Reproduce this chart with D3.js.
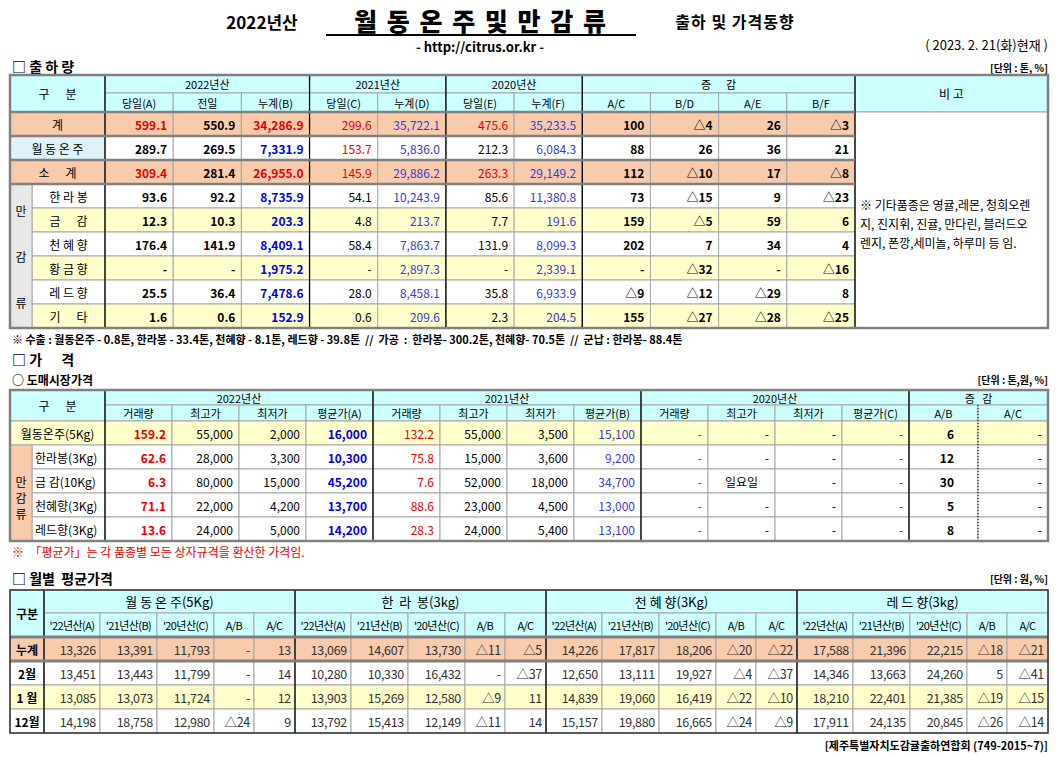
<!DOCTYPE html>
<html><head><meta charset="utf-8">
<script src="https://cdn.jsdelivr.net/npm/d3@7"></script>
<style>body{margin:0;background:#fff}svg{font-family:"Noto Sans CJK KR","Noto Sans",sans-serif}text{white-space:pre}</style>
</head><body><svg id="c" width="1062" height="757"></svg>
<script>
// ---------- data ----------
const shipRows = ["계","월동온주","소계","한라봉","금감","천혜향","황금향","레드향","기타"];
const shipLabels = ["계","월 동 온 주","소      계","한 라 봉","금      감","천 혜 향","황 금 향","레 드 향","기      타"];
const shipCols = ["당일(A)","전일","누계(B)","당일(C)","누계(D)","당일(E)","누계(F)","A/C","B/D","A/E","B/F"];
const shipYears = ["2022년산","2021년산","2020년산","증      감"];
const shipVals = [
 ["599.1","550.9","34,286.9","299.6","35,722.1","475.6","35,233.5","100","△4","26","△3"],
 ["289.7","269.5","7,331.9","153.7","5,836.0","212.3","6,084.3","88","26","36","21"],
 ["309.4","281.4","26,955.0","145.9","29,886.2","263.3","29,149.2","112","△10","17","△8"],
 ["93.6","92.2","8,735.9","54.1","10,243.9","85.6","11,380.8","73","△15","9","△23"],
 ["12.3","10.3","203.3","4.8","213.7","7.7","191.6","159","△5","59","6"],
 ["176.4","141.9","8,409.1","58.4","7,863.7","131.9","8,099.3","202","7","34","4"],
 ["-","-","1,975.2","-","2,897.3","-","2,339.1","-","△32","-","△16"],
 ["25.5","36.4","7,478.6","28.0","8,458.1","35.8","6,933.9","△9","△12","△29","8"],
 ["1.6","0.6","152.9","0.6","209.6","2.3","204.5","155","△27","△28","△25"]
];
const shipNote = ["※ 기타품종은 영귤,레몬, 청희오렌","지, 진지휘, 진귤, 만다린, 블러드오","렌지, 폰깡,세미놀, 하루미 등 임."];
const priceRows = ["월동온주(5Kg)","한라봉(3Kg)","금 감(10Kg)","천혜향(3Kg)","레드향(3Kg)"];
const priceCols = ["거래량","최고가","최저가","평균가(A)","거래량","최고가","최저가","평균가(B)","거래량","최고가","최저가","평균가(C)","A/B","A/C"];
const priceYears = ["2022년산","2021년산","2020년산","증   감"];
const priceVals = [
 ["159.2","55,000","2,000","16,000","132.2","55,000","3,500","15,100","-","-","-","-","6","-"],
 ["62.6","28,000","3,300","10,300","75.8","15,000","3,600","9,200","-","-","-","-","12","-"],
 ["6.3","80,000","15,000","45,200","7.6","52,000","18,000","34,700","-","일요일","-","-","30","-"],
 ["71.1","22,000","4,200","13,700","88.6","23,000","4,500","13,000","-","-","-","-","5","-"],
 ["13.6","24,000","5,000","14,200","28.3","24,000","5,400","13,100","-","-","-","-","8","-"]
];
const monthGroups = ["월 동 온 주(5Kg)","한  라  봉(3kg)","천 혜 향(3Kg)","레 드 향(3kg)"];
const monthCols = ["'22년산(A)","'21년산(B)","'20년산(C)","A/B","A/C"];
const monthRows = ["누계","2월","1 월","12월"];
const monthVals = [
 ["13,326","13,391","11,793","-","13","13,069","14,607","13,730","△11","△5","14,226","17,817","18,206","△20","△22","17,588","21,396","22,215","△18","△21"],
 ["13,451","13,443","11,799","-","14","10,280","10,330","16,432","-","△37","12,650","13,111","19,927","△4","△37","14,346","13,663","24,260","5","△41"],
 ["13,085","13,073","11,724","-","12","13,903","15,269","12,580","△9","11","14,839","19,060","16,419","△22","△10","18,210","22,401","21,385","△19","△15"],
 ["14,198","18,758","12,980","△24","9","13,792","15,413","12,149","△11","14","15,157","19,880","16,665","△24","△9","17,911","24,135","20,845","△26","△14"]
];

// ---------- helpers ----------
const svg = d3.select("#c");
const CY="#ccffff", PE="#f8cbad", YE="#ffffcc", GRID="#a6a6a6";
const RED="#e60000", BLUE="#0000e0", SB="#3a3ad0";
function txt(x,y,s,o={}){
  const t=svg.append("text").attr("x",x).attr("y",y).text(s)
   .attr("text-anchor",o.a||"start").attr("dominant-baseline","central")
   .attr("font-size",o.size||12).attr("font-weight",o.w||"normal")
   .attr("fill",o.c||"#000");
  if(o.ls) t.attr("letter-spacing",o.ls);
  return t;
}
function cell(x,y,w,h,fill,s,o={}){
  svg.append("rect").attr("x",x).attr("y",y).attr("width",w).attr("height",h)
    .attr("fill",fill).attr("stroke",o.stroke||GRID).attr("stroke-width",1);
  if(s!==undefined&&s!==null){
    const al=o.a||"middle";
    const tx= al==="end"? x+w-(o.pad||6) : al==="start"? x+(o.pad||5) : x+w/2;
    txt(tx,y+h/2,s,{...o,a:al});
  }
}
function line(x1,y1,x2,y2,c,w,dash){svg.append("line").attr("x1",x1).attr("y1",y1).attr("x2",x2).attr("y2",y2).attr("stroke",c).attr("stroke-width",w).attr("stroke-dasharray",dash||null);}

// ---------- title ----------
txt(262,21,"2022년산",{a:"middle",size:17,w:"bold"});
txt(481,20,"월 동 온 주 및 만 감 류",{a:"middle",size:25,w:"900",ls:2});
line(326,35,636,35,"#000",2);
txt(735,21,"출하 및 가격동향",{a:"middle",size:16,w:"bold",ls:1});
txt(480,46,"- http://citrus.or.kr -",{a:"middle",size:13,w:"bold"});
txt(1048,44,"( 2023. 2. 21(화)현재 )",{a:"end",size:13});
txt(12,66,"□ 출 하 량",{size:14,w:"bold"});
txt(1048,67,"[단위 : 톤, %]",{a:"end",size:10,w:"bold"});

// ---------- table 1 ----------
const x1=d3.scaleLinear().domain([0,11]).range([105,855]);
const y1=d3.scaleLinear().domain([0,9]).range([112,328]);
const h1a=75,h1b=93;
cell(10,h1a,95,y1(0)-h1a,CY,"구      분",{size:12});
[[0,3],[3,5],[5,7],[7,11]].forEach((r,i)=>cell(x1(r[0]),h1a,x1(r[1])-x1(r[0]),h1b-h1a,CY,shipYears[i],{size:11}));
shipCols.forEach((c,i)=>cell(x1(i),h1b,x1(i+1)-x1(i),y1(0)-h1b,CY,c,{size:11}));
cell(855,h1a,193,y1(0)-h1a,CY,"비 고",{size:12});
shipRows.forEach((r,i)=>{
  const tot=(i===0||i===2), fill= tot?PE:((i===4||i===6||i===8)?YE:"#fff");
  const y=y1(i),h=y1(i+1)-y1(i);
  if(i<3) cell(10,y,95,h,tot?PE:"#dff3f8",shipLabels[i],{size:12});
  else cell(32,y,73,h,fill,shipLabels[i],{size:12});
  shipVals[i].forEach((v,j)=>{
    let c="#000",w="bold";
    if(j===0){c=tot?RED:"#000";}
    if(j===5){c=tot?RED:"#000";w="normal";}
    if(j===3){c=(i<3)?RED:"#000";w="normal";}
    if(j===2){c=tot?RED:BLUE;}
    if(j===4||j===6){c=SB;w="normal";}
    cell(x1(j),y,x1(j+1)-x1(j),h,fill,v,{a:"end",c,w,size:12});
  });
});
cell(10,y1(3),22,y1(9)-y1(3),"#e8e8e8",null);
["만","감","류"].forEach((s,k)=>txt(21,y1(3)+26+k*46,s,{a:"middle",size:12}));
cell(855,y1(0),193,y1(9)-y1(0),"#fff",null);
shipNote.forEach((s,k)=>txt(860,y1(0)+92+k*19,s,{size:12}));
[105,x1(3),x1(5),x1(7),x1(11)].forEach(x=>line(x,h1a,x,y1(9),"#000",1.3));
[y1(0),y1(1),y1(2),y1(3)].forEach(y=>line(10,y,855,y,"#808080",2.5));
svg.append("rect").attr("x",10).attr("y",h1a).attr("width",1038).attr("height",y1(9)-h1a).attr("fill","none").attr("stroke","#808080").attr("stroke-width",2.5);
txt(12,339,"※ 수출 : 월동온주 - 0.8톤, 한라봉 - 33.4톤, 천혜향 - 8.1톤, 레드향 - 39.8톤  //  가공  :  한라봉- 300.2톤, 천혜향- 70.5톤  //  군납 : 한라봉- 88.4톤",{size:11,w:"bold"});

// ---------- table 2 ----------
txt(12,359,"□ 가      격",{size:14,w:"bold"});
txt(12,379,"○ 도매시장가격",{size:12,w:"bold"});
txt(1048,379,"[단위 : 톤,원, %]",{a:"end",size:10,w:"bold"});
const x2=d3.scaleLinear().domain([0,12]).range([105,909]);
const x2b=[909,978,1048];
const y2=d3.scaleLinear().domain([0,5]).range([421,541]);
const h2a=390,h2b=405;
const cx=i=> i<12? x2(i) : x2b[i-12];
cell(10,h2a,95,y2(0)-h2a,CY,"구      분",{size:12});
[[0,4],[4,8],[8,12],[12,14]].forEach((r,i)=>cell(cx(r[0]),h2a,cx(r[1])-cx(r[0]),h2b-h2a,CY,priceYears[i],{size:11}));
priceCols.forEach((c,i)=>cell(cx(i),h2b,cx(i+1)-cx(i),y2(0)-h2b,CY,c,{size:11}));
priceRows.forEach((r,i)=>{
  const y=y2(i),h=y2(i+1)-y2(i),fill=i===0?YE:"#fff";
  if(i===0) cell(10,y,95,h,YE,r,{size:12});
  else cell(32,y,73,h,"#fff",r,{a:"start",pad:3,size:12});
  priceVals[i].forEach((v,j)=>{
    let c="#000",w="normal";
    if(j===0){c=RED;w="bold";} if(j===3){c=BLUE;w="bold";}
    if(j===4||j===8) c=RED; if(j===7||j===11) c=SB; if(j===12) w="bold";
    const a=(v==="일요일")?"middle":"end";
    cell(cx(j),y,cx(j+1)-cx(j),h,fill,v,{a,c,w,size:12,pad:j===12?24:6});
  });
});
cell(10,y2(1),22,y2(5)-y2(1),PE,null);
["만","감","류"].forEach((s,k)=>txt(21,y2(1)+36+k*16,s,{a:"middle",size:12}));
[105,x2(4),x2(8),x2(12)].forEach(x=>line(x,h2a,x,y2(5),"#000",1.3));
line(978,h2b,978,y2(5),"#000",1,"1,2");
svg.append("rect").attr("x",10).attr("y",h2a).attr("width",1038).attr("height",y2(5)-h2a).attr("fill","none").attr("stroke","#808080").attr("stroke-width",2.5);
txt(12,551,"※  「평균가」는 각 품종별 모든 상자규격을 환산한 가격임.",{size:12,c:RED});

// ---------- table 3 ----------
txt(12,578,"□ 월별  평균가격",{size:14,w:"bold"});
txt(1048,578,"[단위 : 원, %]",{a:"end",size:10,w:"bold"});
const gw=[56,57,57,40,41];
const gx=d3.scaleLinear().domain([0,4]).range([44,1048]);
const y3=d3.scaleLinear().domain([0,4]).range([637,733]);
const h3a=590,h3b=613;
cell(10,h3a,34,y3(0)-h3a,CY,"구분",{size:12,w:"bold"});
monthGroups.forEach((g,gi)=>{
  const x0=gx(gi);
  cell(x0,h3a,gx(gi+1)-x0,h3b-h3a,CY,g,{size:13});
  let xx=x0;
  monthCols.forEach((c,ci)=>{cell(xx,h3b,gw[ci],y3(0)-h3b,CY,c,{size:11,ls:-0.6});xx+=gw[ci];});
});
monthRows.forEach((r,i)=>{
  const y=y3(i),h=y3(i+1)-y3(i),fill=i===0?PE:(i===2?YE:"#fff");
  cell(10,y,34,h,fill,r,{size:12,w:"bold"});
  monthGroups.forEach((g,gi)=>{
    let xx=gx(gi);
    monthCols.forEach((c,ci)=>{
      cell(xx,y,gw[ci],h,fill,monthVals[i][gi*5+ci],{a:"end",pad:4,size:12.5,c:"#333",ls:-0.3});
      xx+=gw[ci];
    });
  });
});
[44,gx(1),gx(2),gx(3)].forEach(x=>line(x,h3a,x,y3(4),"#000",1.3));
line(10,y3(0),1048,y3(0),"#808080",3);line(10,y3(1),1048,y3(1),"#808080",3);
svg.append("rect").attr("x",10).attr("y",h3a).attr("width",1038).attr("height",y3(4)-h3a).attr("fill","none").attr("stroke","#333").attr("stroke-width",1.5);
txt(1048,745,"[제주특별자치도감귤출하연합회 (749-2015~7)]",{a:"end",size:11,w:"bold"});
</script></body></html>
